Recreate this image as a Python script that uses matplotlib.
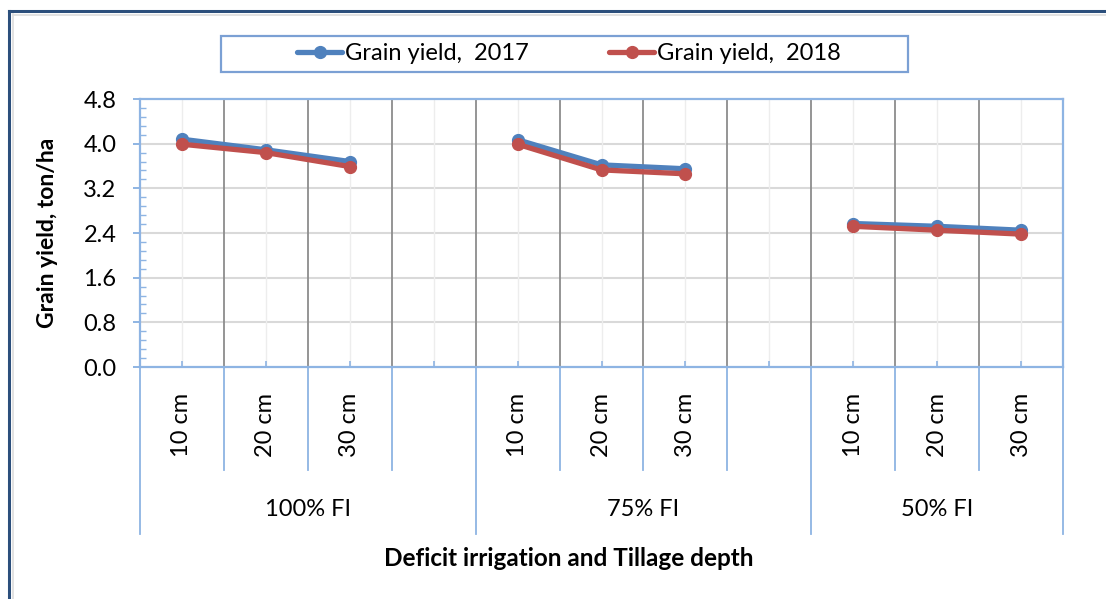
import matplotlib
matplotlib.use('Agg')
import matplotlib.pyplot as plt
import numpy as np
from matplotlib.lines import Line2D
from matplotlib.patches import Rectangle
from matplotlib.ticker import MultipleLocator, FormatStrFormatter
from matplotlib.transforms import blended_transform_factory

plt.rcParams['font.family'] = ['Lato', 'DejaVu Sans']

# ---- data ----
groups = ['100% FI', '75% FI', '50% FI']
depths = ['10 cm', '20 cm', '30 cm']
yield_2017 = [[4.08, 3.89, 3.68], [4.07, 3.62, 3.55], [2.57, 2.52, 2.45]]
yield_2018 = [[3.99, 3.84, 3.59], [3.99, 3.53, 3.46], [2.52, 2.45, 2.38]]
series_labels = ['Grain yield,  2017', 'Grain yield,  2018']
y_ticks = [0.0, 0.8, 1.6, 2.4, 3.2, 4.0, 4.8]

W, H = 1106, 599
BLUE = '#4F81BD'
RED = '#C0504D'
AXBLUE = '#8EB4E3'
FS = 17


def fx(x):
    return x / W


def fy(y):
    return 1 - y / H


fig = plt.figure(figsize=(W / 100, H / 100), dpi=100)
ax = fig.add_axes([fx(140), fy(367), fx(1063) - fx(140), fy(99) - fy(367)])

# category slots: each group has its depths + one empty slot (except the last)
slot = 4
n_slots = slot * (len(groups) - 1) + len(depths)
ax.set_xlim(-0.5, n_slots - 0.5)
ax.set_ylim(0, 4.8)

for vals, col, lab in [(yield_2017, BLUE, series_labels[0]),
                       (yield_2018, RED, series_labels[1])]:
    for g, gv in enumerate(vals):
        xs = np.arange(len(gv)) + g * slot
        ax.plot(xs, gv, color=col, lw=3.8, marker='o', ms=8.5,
                solid_capstyle='round', zorder=5, label=lab if g == 0 else None)

# grid
ax.set_yticks(y_ticks)
ax.yaxis.set_major_formatter(FormatStrFormatter('%.1f'))
ax.yaxis.set_minor_locator(MultipleLocator(0.16))
for yv in y_ticks[1:-1]:
    ax.axhline(yv, color='#D9D9D9', lw=1.5, zorder=1)
for i in range(n_slots):
    ax.axvline(i, color='#EDEDED', lw=1.0, zorder=1)
for i in range(n_slots - 1):
    ax.axvline(i + 0.5, color='#8C8C8C', lw=1.3, zorder=2)

for s in ax.spines.values():
    s.set_color(AXBLUE)
    s.set_linewidth(1.6)
    s.set_zorder(3)

ax.tick_params(axis='y', which='major', direction='out', length=5, width=1.4,
               color=AXBLUE, labelsize=FS, pad=12)
ax.tick_params(axis='y', which='minor', direction='in', length=4, width=1.0,
               color=AXBLUE)
ax.set_xticks(range(n_slots))
ax.set_xticklabels([])
ax.tick_params(axis='x', direction='in', length=4, width=1.2, color=AXBLUE)

# multi-level category axis below the plot
trans = blended_transform_factory(ax.transData, ax.transAxes)
ph = 367 - 99
short = -(470 - 367) / ph
long_ = -(534 - 367) / ph
for g in range(len(groups)):
    start = g * slot - 0.5
    ax.plot([start, start], [0, long_], color=AXBLUE, lw=1.3, transform=trans, clip_on=False)
    for d, name in enumerate(depths):
        xc = g * slot + d
        ax.text(xc, -(425 - 367) / ph, name, rotation=90, ha='center', va='center',
                fontsize=FS, transform=trans)
    nsl = slot if g < len(groups) - 1 else len(depths)
    for k in range(1, nsl):
        xb = start + k
        ax.plot([xb, xb], [0, short], color=AXBLUE, lw=1.3, transform=trans, clip_on=False)
    ax.text(start + nsl / 2, -(510 - 367) / ph, groups[g], ha='center', va='center',
            fontsize=FS, transform=trans)
ax.plot([n_slots - 0.5] * 2, [0, long_], color=AXBLUE, lw=1.3, transform=trans, clip_on=False)

fig.text(fx(569), fy(558), 'Deficit irrigation and Tillage depth', ha='center', va='center',
         fontsize=17.5, fontweight='bold')
fig.text(fx(48), fy(233), 'Grain yield, ton/ha', ha='center', va='center',
         rotation=90, fontsize=16.5, fontweight='bold')

# legend
fig.add_artist(Rectangle((fx(221), fy(72)), fx(908) - fx(221), fy(36) - fy(72),
                         transform=fig.transFigure, fill=False, edgecolor='#7BA0D4', lw=1.6))
fig.legend(loc='center', bbox_to_anchor=(fx(569), fy(54)), ncol=2, frameon=False,
           fontsize=FS, handlelength=1.9, handletextpad=0.12, columnspacing=3.4)

# outer chart border
fig.add_artist(Line2D([fx(9), fx(9)], [fy(11), 0], transform=fig.transFigure,
                      color='#2C4F7C', lw=2.2))
fig.add_artist(Line2D([fx(9), 1], [fy(11), fy(11)], transform=fig.transFigure,
                      color='#2C4F7C', lw=2.2))
fig.add_artist(Line2D([fx(12.5), fx(12.5)], [fy(14), 0], transform=fig.transFigure,
                      color='#DDDDDD', lw=1.2))
fig.add_artist(Line2D([fx(12.5), 1], [fy(14.5), fy(14.5)], transform=fig.transFigure,
                      color='#DDDDDD', lw=1.2))

fig.savefig('out.png', dpi=100)
